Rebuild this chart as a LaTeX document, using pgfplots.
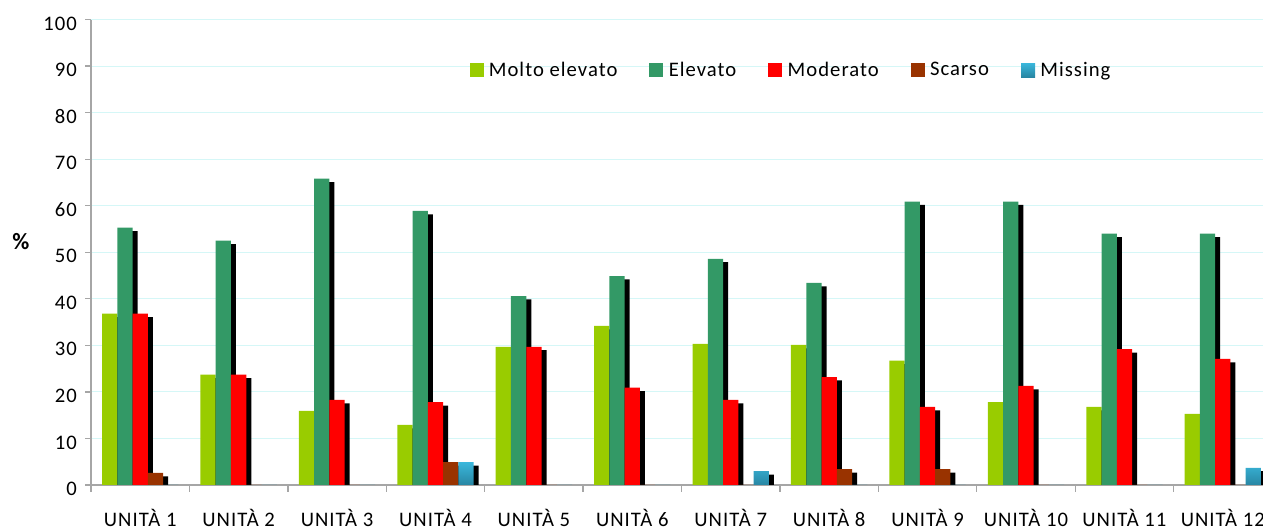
\documentclass[border=0pt]{standalone}
\usepackage{fontspec}
\setmainfont{Carlito}[LetterSpace=5]
\usepackage{pgfplots}
\pgfplotsset{compat=1.18}
\usepackage{pgfplotstable}

\definecolor{cME}{HTML}{99CC00}
\definecolor{cE}{HTML}{339966}
\definecolor{cMo}{HTML}{FF0000}
\definecolor{cS}{HTML}{993300}
\definecolor{cMiT}{HTML}{3AB7DC}
\definecolor{cMiB}{HTML}{2886A3}
\definecolor{cGrid}{HTML}{D5F7F7}
\definecolor{cAx}{HTML}{A6A6A6}

\pgfplotstableread{
x ME E Mo S Mi
0 36.8 55.3 36.8 2.6 0
1 23.7 52.5 23.7 0 0
2 15.9 65.8 18.3 0 0
3 12.9 58.9 17.8 4.9 4.9
4 29.7 40.6 29.7 0 0
5 34.2 44.9 20.9 0 0
6 30.3 48.6 18.3 0 3.0
7 30.1 43.4 23.2 3.4 0
8 26.7 60.9 16.8 3.4 0
9 17.8 60.9 21.3 0 0
10 16.8 54.0 29.2 0 0
11 15.3 54.0 27.1 0 3.7
}\data

\pgfplotsset{
  sq/.style={legend image code/.code={\fill[##1] (0pt,-5.25pt) rectangle (10.5pt,5.25pt);}},
  shadow/.style={ybar, bar width=11.44pt, fill=black, draw=none, yshift=-2.6pt, forget plot},
  mainbar/.style={ybar, bar width=11.44pt, draw=none, sq},
}

\begin{document}
\begin{tikzpicture}
\begin{axis}[
  scale only axis, width=885.75pt, height=349.1pt,
  xmin=-0.5, xmax=11.5, ymin=0, ymax=100,
  axis x line*=bottom, axis y line*=left,
  axis line style={draw=cAx, line width=1pt, -},
  ytick={0,10,...,100},
  xtick={0,...,11},
  xticklabels={UNITÀ 1,UNITÀ 2,UNITÀ 3,UNITÀ 4,UNITÀ 5,UNITÀ 6,UNITÀ 7,UNITÀ 8,UNITÀ 9,UNITÀ 10,UNITÀ 11,UNITÀ 12},
  minor xtick={-0.5,0.5,...,11.5},
  tick align=outside,
  major tick length=4.5pt, minor tick length=5.25pt,
  tick style={draw=cAx, line width=1pt},
  major x tick style={draw=none},
  ymajorgrids, grid style={draw=cGrid, line width=0.75pt},
  /pgf/number format/assume math mode=true,
  tick label style={font=\fontsize{15.5}{18}\selectfont},
  yticklabel style={xshift=-2.5pt, yshift=-3pt},
  xticklabel style={yshift=-10.5pt},
  ylabel={\%},
  every axis y label/.style={at={(axis description cs:0,0.522)}, anchor=center, xshift=-52.5pt, font=\fontsize{17.5}{20}\selectfont\bfseries},
  legend columns=5,
  legend style={at={(axis description cs:0.593,0.8915)}, anchor=center, draw=none, fill=none,
    font=\fontsize{15.5}{18}\selectfont,
    /tikz/every odd column/.append style={column sep=2pt},
    /tikz/every even column/.append style={column sep=22pt}},
]
\addplot[shadow, bar shift=-19.13pt] table[x=x,y=ME]{\data};
\addplot[shadow, bar shift=-7.69pt] table[x=x,y=E]{\data};
\addplot[shadow, bar shift=3.75pt] table[x=x,y=Mo]{\data};
\addplot[shadow, bar shift=15.19pt] table[x=x,y=S]{\data};
\addplot[shadow, bar shift=26.63pt] table[x=x,y=Mi]{\data};

\addplot[mainbar, fill=cME, bar shift=-22.88pt] table[x=x,y=ME]{\data};
\addlegendentry{Molto elevato}
\addplot[mainbar, fill=cE, bar shift=-11.44pt] table[x=x,y=E]{\data};
\addlegendentry{Elevato}
\addplot[mainbar, fill=cMo, bar shift=0pt] table[x=x,y=Mo]{\data};
\addlegendentry{Moderato}
\addplot[mainbar, fill=cS, bar shift=11.44pt] table[x=x,y=S]{\data};
\addlegendentry{Scarso}
\addplot[mainbar, top color=cMiT, bottom color=cMiB, bar shift=22.88pt] table[x=x,y=Mi]{\data};
\addlegendentry{Missing}
\end{axis}
\pgfresetboundingbox
\useasboundingbox (-68.25pt,-34.5pt) rectangle (879pt,363.75pt);
\end{tikzpicture}
\end{document}
